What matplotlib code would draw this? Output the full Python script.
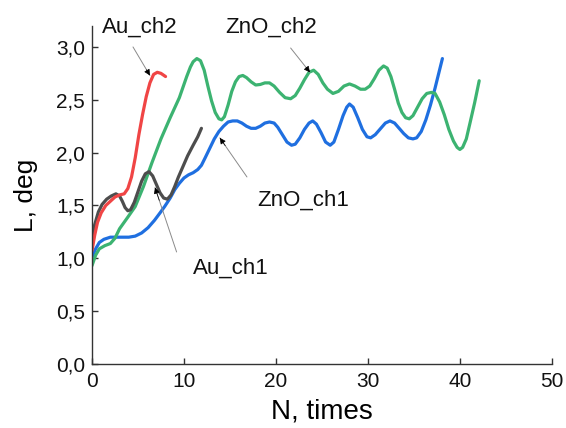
import matplotlib
matplotlib.use("Agg")
import matplotlib.pyplot as plt
from matplotlib.ticker import FuncFormatter

plt.rcParams['font.family'] = ['Liberation Sans', 'DejaVu Sans']

# Au_ch2 (red)
au2_x = [0.0, 0.3, 0.6, 1.0, 1.5, 2.0, 2.5, 3.0, 3.5, 3.9, 4.3, 4.7, 5.1, 5.5, 5.9, 6.3, 6.7, 7.1, 7.5, 8.0]
au2_y = [1.07, 1.22, 1.34, 1.43, 1.50, 1.54, 1.58, 1.60, 1.61, 1.66, 1.77, 1.95, 2.17, 2.36, 2.53, 2.66,
         2.74, 2.76, 2.75, 2.72]

# Au_ch1 (grey)
au1_x = [0.0, 0.3, 0.7, 1.1, 1.6, 2.1, 2.6, 3.0, 3.3, 3.6, 3.9, 4.2, 4.6, 5.0, 5.4, 5.8, 6.2, 6.6,
         7.0, 7.4, 7.8, 8.2, 8.6, 9.0, 9.4, 9.9, 10.4, 11.0, 11.5, 11.9]
au1_y = [1.20, 1.32, 1.44, 1.51, 1.56, 1.59, 1.61, 1.59, 1.54, 1.48, 1.45, 1.46, 1.53, 1.63, 1.73, 1.80,
         1.82, 1.78, 1.70, 1.62, 1.57, 1.56, 1.60, 1.68, 1.77, 1.87, 1.97, 2.07, 2.15, 2.23]

# ZnO_ch2 (green)
zn2_x = [0.0, 0.4, 0.8, 1.4, 2.0, 2.5, 3.0, 3.9, 4.7, 5.6, 6.5, 7.5, 8.5, 9.5, 10.3, 10.7, 11.0, 11.4,
         11.8, 12.2, 12.6, 13.0, 13.4, 13.8, 14.1, 14.4, 14.8, 15.2, 15.6, 16.0, 16.4, 16.8, 17.3,
         17.8, 18.3, 18.8, 19.3, 19.8, 20.4, 21.0, 21.6, 22.1, 22.6, 23.1, 23.6, 24.1, 24.6, 25.1,
         25.6, 26.2, 26.8, 27.4, 28.0, 28.6, 29.2, 29.7, 30.2, 30.7, 31.2, 31.7, 32.1, 32.5, 32.9,
         33.3, 33.7, 34.1, 34.5, 34.9, 35.4, 35.9, 36.4, 36.9, 37.3, 37.8, 38.3, 38.8, 39.3, 39.7,
         40.0, 40.3, 40.7, 41.1, 41.6, 42.1]
zn2_y = [0.93, 1.03, 1.09, 1.12, 1.14, 1.19, 1.28, 1.39, 1.49, 1.68, 1.90, 2.13, 2.33, 2.52, 2.72, 2.81, 2.86, 2.89,
         2.87, 2.78, 2.63, 2.49, 2.38, 2.32, 2.31, 2.34, 2.45, 2.58, 2.67, 2.72, 2.73, 2.71, 2.67,
         2.64, 2.645, 2.66, 2.66, 2.63, 2.57, 2.52, 2.51, 2.54, 2.61, 2.69, 2.76, 2.78, 2.74, 2.66,
         2.60, 2.56, 2.58, 2.63, 2.65, 2.63, 2.60, 2.60, 2.63, 2.70, 2.78, 2.82, 2.80, 2.72, 2.60,
         2.47, 2.38, 2.33, 2.32, 2.35, 2.43, 2.51, 2.56, 2.57, 2.56, 2.48, 2.36, 2.22, 2.11, 2.05,
         2.03, 2.05, 2.13, 2.28, 2.47, 2.68]

# ZnO_ch1 (blue)
zn1_x = [0.0, 0.4, 0.8, 1.3, 2.0, 3.0, 4.0, 4.7, 5.4, 6.1, 6.8, 7.4, 7.9, 8.5, 9.0, 9.5, 10.0, 10.5,
         11.0, 11.5, 11.9, 12.3, 12.8, 13.3, 13.8, 14.3, 14.8, 15.3, 15.8, 16.3, 16.8, 17.3, 17.8,
         18.3, 18.8, 19.3, 19.8, 20.2, 20.7, 21.2, 21.7, 22.1, 22.6, 23.1, 23.6, 24.0, 24.4, 24.9,
         25.4, 25.9, 26.3, 26.8, 27.3, 27.7, 28.0, 28.4, 28.9, 29.4, 29.9, 30.3, 30.8, 31.4, 31.9,
         32.4, 32.9, 33.4, 33.9, 34.4, 34.9, 35.3, 35.8, 36.3, 36.8, 37.3, 37.7, 38.1]
zn1_y = [1.01, 1.09, 1.15, 1.18, 1.20, 1.20, 1.20, 1.21, 1.24, 1.29, 1.36, 1.43, 1.49, 1.57, 1.65, 1.71, 1.76, 1.79,
         1.81, 1.84, 1.88, 1.95, 2.04, 2.13, 2.20, 2.25, 2.29, 2.30, 2.30, 2.28, 2.25, 2.23, 2.23,
         2.25, 2.28, 2.29, 2.28, 2.24, 2.17, 2.10, 2.07, 2.08, 2.14, 2.22, 2.28, 2.30, 2.27, 2.19,
         2.10, 2.07, 2.10, 2.22, 2.35, 2.43, 2.46, 2.43, 2.33, 2.22, 2.15, 2.14, 2.17, 2.23, 2.28,
         2.30, 2.28, 2.23, 2.18, 2.14, 2.13, 2.14, 2.20, 2.31, 2.45, 2.61, 2.75, 2.89]

fig = plt.figure(figsize=(5.66, 4.28), dpi=100)
ax = fig.add_axes([0.1625, 0.1495, 0.8125, 0.7902])

lw = 2.3
ax.plot(zn1_x, zn1_y, color='#1f6fe0', lw=lw, solid_capstyle='round', solid_joinstyle='round')
ax.plot(zn2_x, zn2_y, color='#3cb371', lw=lw, solid_capstyle='round', solid_joinstyle='round')
ax.plot(au1_x, au1_y, color='#4d4d4d', lw=lw, solid_capstyle='round', solid_joinstyle='round')
ax.plot(au2_x, au2_y, color='#f04545', lw=lw, solid_capstyle='round', solid_joinstyle='round')

# labels with thin grey leader lines and small black arrow heads
labels = [
    ('Au_ch2', (5.2, 3.19), (4.46, 3.00), (6.3, 2.73)),
    ('ZnO_ch2', (19.5, 3.19), (21.6, 2.99), (23.7, 2.76)),
    ('ZnO_ch1', (23.0, 1.55), (16.85, 1.77), (13.9, 2.14)),
    ('Au_ch1', (15.1, 0.91), (9.2, 1.06), (6.85, 1.67)),
]
for name, txt, tail, head in labels:
    ax.text(txt[0], txt[1], name, fontsize=16, ha='center', va='center', color='#111111')
    ax.annotate('', xy=head, xytext=tail,
                arrowprops=dict(arrowstyle='-', color='#8a8a8a', lw=0.7,
                                shrinkA=0, shrinkB=0))
    near = (head[0] + 0.2 * (tail[0] - head[0]), head[1] + 0.2 * (tail[1] - head[1]))
    ax.annotate('', xy=head, xytext=near,
                arrowprops=dict(arrowstyle='-|>', color='black', lw=0.5,
                                mutation_scale=9, shrinkA=0, shrinkB=0))

ax.set_xlim(0, 50)
ax.set_ylim(0, 3.2)
ax.set_xticks([0, 10, 20, 30, 40, 50])
ax.set_yticks([0, 0.5, 1.0, 1.5, 2.0, 2.5, 3.0])
ax.yaxis.set_major_formatter(FuncFormatter(lambda v, p: f'{v:.1f}'.replace('.', ',')))

for s in ['top', 'right']:
    ax.spines[s].set_visible(False)
for s in ['left', 'bottom']:
    ax.spines[s].set_color('#333333')
    ax.spines[s].set_linewidth(1.0)

ax.tick_params(axis='both', direction='in', length=4, width=1, color='#333333',
               labelsize=15, labelcolor='#111111')
ax.tick_params(axis='y', pad=5)
ax.tick_params(axis='x', pad=6)

ax.set_xlabel('N, times', fontsize=20, labelpad=5)
ax.set_ylabel('L, deg', fontsize=19, labelpad=13)

fig.savefig('out.png', dpi=100)
